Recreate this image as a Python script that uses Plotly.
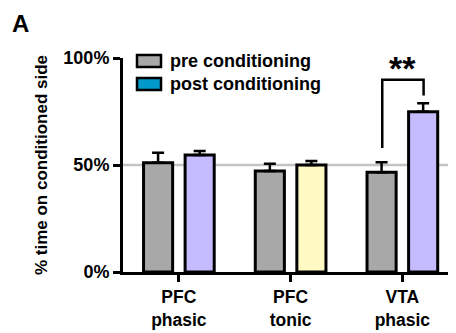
import plotly.graph_objects as go

categories = ["PFC<br>phasic", "PFC<br>tonic", "VTA<br>phasic"]
pre_values = [51.0, 47.2, 46.6]
pre_errors = [4.7, 3.4, 4.7]
post_values = [54.7, 50.0, 74.9]
post_errors = [1.8, 1.9, 3.9]
post_colors = ["#c4bcff", "#fffac4", "#c4bcff"]
pre_color = "#a8a8a8"
legend_labels = ["pre conditioning", "post conditioning"]
legend_colors = ["#a8a8a8", "#0099cc"]
y_ticks = [0, 50, 100]
y_tick_labels = ["0%", "50%", "100%"]
reference_value = 50
sig_label = "**"

x = list(range(len(categories)))
FONT = "Liberation Sans, Arial, sans-serif"

# page has an 8px body margin; compensate
OFF = 8
W, H = 456 - OFF, 333 - OFF
l, r, t, b = 123 - OFF, 0, 58 - OFF, 61
pw, ph = W - l - r, H - t - b

def px2paper(px, py):
    # px, py in page coordinates
    return (px - OFF - l) / pw, (H - b - (py - OFF)) / ph

fig = go.Figure()
fig.add_trace(go.Bar(
    x=x, y=pre_values, name=legend_labels[0],
    marker=dict(color=pre_color, line=dict(color="black", width=3)),
    error_y=dict(type="data", array=pre_errors, arrayminus=[0]*3, symmetric=False,
                 color="black", thickness=2.5, width=6),
))
fig.add_trace(go.Bar(
    x=x, y=post_values, name=legend_labels[1],
    marker=dict(color=post_colors, line=dict(color="black", width=3)),
    error_y=dict(type="data", array=post_errors, arrayminus=[0]*3, symmetric=False,
                 color="black", thickness=2.5, width=6),
))

shapes = []
shapes.append(dict(type="line", xref="paper", yref="y", x0=0, x1=1,
                   y0=reference_value, y1=reference_value,
                   line=dict(color="#c4c4c4", width=2.5), layer="below"))
bl, br = 2 - 0.18, 2 + 0.19
shapes.append(dict(type="path", xref="x", yref="y",
                   path=f"M {bl} 58 L {bl} 89.8 L {br} 89.8 L {br} 82.5",
                   line=dict(color="black", width=2.5)))
for i, (lab, col) in enumerate(zip(legend_labels, legend_colors)):
    cy = 61 + i * 23
    x0, y0 = px2paper(137, cy - 6)
    x1, y1 = px2paper(161, cy + 6)
    shapes.append(dict(type="rect", xref="paper", yref="paper", x0=x0, x1=x1, y0=y1, y1=y0,
                       fillcolor=col, line=dict(color="black", width=2.5)))

annotations = []
for i, lab in enumerate(legend_labels):
    cy = 61 + i * 23
    ax, ay = px2paper(168, cy)
    annotations.append(dict(text=f"<b>{lab}</b>", xref="paper", yref="paper", x=ax, y=ay,
                            xanchor="left", yanchor="middle", showarrow=False,
                            font=dict(size=18, color="black", family=FONT)))
annotations.append(dict(text=f"<b>{sig_label}</b>", xref="x", yref="y", x=(bl + br) / 2, y=95.5,
                        xanchor="center", yanchor="middle", showarrow=False,
                        font=dict(size=34, color="black", family=FONT)))
ax, ay = px2paper(11, OFF + 1)
annotations.append(dict(text="<b>A</b>", xref="paper", yref="paper", x=ax, y=ay,
                        xanchor="left", yanchor="top", showarrow=False, borderpad=0,
                        font=dict(size=24, color="black", family=FONT)))

fig.update_layout(
    width=W, height=H,
    margin=dict(l=l, r=r, t=t, b=b),
    plot_bgcolor="white", paper_bgcolor="white",
    barmode="group", bargap=0.256, bargroupgap=0.3,
    showlegend=False,
    shapes=shapes, annotations=annotations,
    font=dict(family=FONT, color="black"),
    xaxis=dict(range=[-0.5, 2.48], tickmode="array", tickvals=x,
               ticktext=[f"<b>{c}</b>" for c in categories],
               showline=True, linecolor="black", linewidth=3,
               ticks="outside", ticklen=7, tickwidth=3, tickcolor="black",
               showgrid=False, zeroline=False,
               tickfont=dict(size=17.5, family=FONT, color="black")),
    yaxis=dict(range=[0, 100], tickmode="array", tickvals=y_ticks,
               ticktext=[f"<b>{t}</b>" for t in y_tick_labels],
               showline=True, linecolor="black", linewidth=3,
               ticks="outside", ticklen=7, tickwidth=3, tickcolor="black",
               showgrid=False, zeroline=False,
               tickfont=dict(size=18, family=FONT, color="black"),
               title=dict(text="<b>% time on conditioned side</b>", standoff=12,
                          font=dict(size=17, family=FONT, color="black"))),
)

fig.write_html("out.html")
